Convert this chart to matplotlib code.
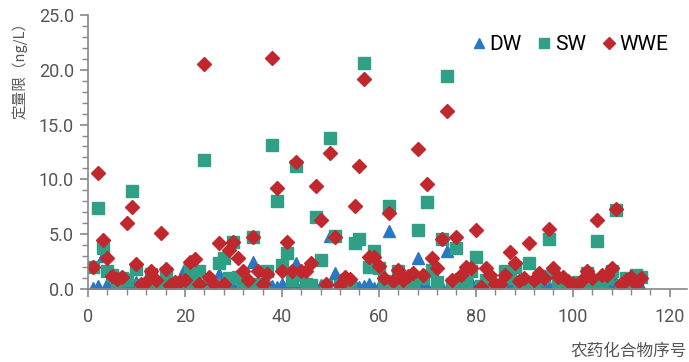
import numpy as np
import matplotlib
matplotlib.use("Agg")
import matplotlib.pyplot as plt
from matplotlib.ticker import MultipleLocator, FormatStrFormatter

plt.rcParams['font.family'] = ['Roboto', 'Noto Sans CJK SC', 'DejaVu Sans']

# 农药化合物序号 1..114
idx = np.arange(1, 115)

dw = [0.1, 0.3, 3.0, 0.5, 0.2, 0.4, 0.2, 0.3, 0.2, 0.6,
      0.1, 0.2, 0.3, 0.1, 0.4, 0.2, 0.1, 0.3, 0.5, 1.9,
      0.3, 1.2, 0.2, 0.4, 0.1, 0.3, 1.4, 0.2, 0.5, 0.3,
      0.1, 0.6, 0.2, 2.5, 0.3, 0.1, 0.6, 0.3, 0.2, 0.5,
      0.3, 0.6, 2.4, 0.2, 0.5, 0.3, 0.1, 0.4, 0.2, 4.8,
      1.5, 0.3, 0.1, 0.6, 0.4, 0.2, 0.3, 0.5, 0.1, 0.3,
      0.2, 5.3, 0.3, 0.1, 0.4, 0.2, 0.5, 2.8, 0.3, 0.2,
      1.6, 0.4, 0.2, 3.5, 0.3, 0.6, 0.2, 0.4, 0.6, 0.3,
      0.1, 0.5, 0.2, 0.1, 0.3, 0.8, 0.4, 0.2, 0.1, 0.5,
      0.3, 0.2, 0.6, 0.4, 0.1, 0.3, 0.2, 0.5, 0.1, 0.2,
      0.4, 0.1, 0.3, 0.5, 0.2, 0.3, 0.6, 1.3, 0.4, 0.2,
      0.5, 0.1, 0.3, 0.2]

sw = [2.0, 7.4, 3.7, 1.6, 1.3, 0.6, 1.0, 0.8, 8.9, 1.8,
      0.3, 0.4, 1.4, 0.3, 0.5, 1.5, 0.3, 0.2, 0.4, 0.5,
      1.7, 0.7, 1.6, 11.8, 0.6, 0.4, 2.4, 2.8, 1.0, 4.3,
      1.1, 0.5, 0.3, 4.7, 0.5, 0.3, 1.6, 13.1, 8.0, 2.2,
      3.3, 0.8, 11.2, 1.3, 0.5, 0.4, 6.6, 2.6, 0.3, 13.8,
      4.8, 0.3, 0.8, 0.4, 4.2, 4.6, 20.6, 2.0, 3.5, 1.9,
      0.7, 7.6, 0.5, 1.6, 0.4, 0.6, 0.5, 5.4, 1.0, 7.9,
      1.7, 0.6, 4.6, 19.4, 0.5, 3.7, 0.9, 0.6, 1.6, 2.9,
      0.3, 0.8, 0.5, 0.3, 0.4, 1.6, 1.0, 2.0, 0.4, 0.5,
      2.4, 0.6, 0.9, 1.2, 4.6, 1.5, 0.5, 0.3, 0.4, 0.3,
      0.6, 0.4, 1.5, 0.7, 4.4, 0.5, 1.0, 1.6, 7.2, 0.3,
      1.0, 0.5, 1.3, 1.1]

wwe = [2.0, 10.6, 4.5, 2.8, 1.2, 0.9, 1.1, 6.0, 7.5, 2.3,
       0.5, 0.6, 1.6, 0.8, 5.1, 1.8, 0.4, 0.6, 0.7, 0.8,
       2.5, 2.7, 0.5, 20.5, 1.1, 0.5, 4.2, 0.5, 3.6, 4.3,
       2.8, 1.6, 0.8, 4.7, 1.6, 0.5, 1.4, 21.1, 9.2, 1.6,
       4.3, 1.6, 11.6, 1.6, 1.6, 2.4, 9.4, 6.3, 0.5, 12.4,
       4.7, 0.4, 1.1, 0.9, 7.6, 11.2, 19.2, 2.9, 2.9, 2.1,
       1.0, 6.9, 0.7, 1.7, 0.8, 1.2, 1.5, 12.8, 1.3, 9.6,
       2.8, 1.9, 4.6, 16.2, 0.8, 4.7, 1.3, 2.0, 1.9, 5.4,
       0.2, 1.9, 1.3, 0.5, 0.5, 1.3, 3.4, 2.4, 0.7, 1.0,
       4.2, 0.8, 1.5, 1.0, 5.5, 1.9, 1.1, 1.1, 0.7, 0.5,
       0.5, 0.8, 1.6, 1.0, 6.3, 1.3, 1.3, 1.9, 7.3, 0.5,
       0.8, 1.1, 0.5, 1.0]

fig = plt.figure(figsize=(6.89, 3.62), dpi=100)
ax = fig.add_axes([0.1277, 0.2017, 0.869, 0.757])

ax.plot(idx, dw, linestyle='none', marker='^', ms=9, color='#2a78c2', label='DW')
ax.plot(idx, sw, linestyle='none', marker='s', ms=8.5, color='#2f9f86', label='SW')
ax.plot(idx, wwe, linestyle='none', marker='D', ms=7, color='#c0282e', label='WWE')

ax.set_xlim(0, 123.5)
ax.set_ylim(0, 25)
ax.xaxis.set_major_locator(MultipleLocator(20))
ax.xaxis.set_minor_locator(MultipleLocator(4))
ax.yaxis.set_major_locator(MultipleLocator(5))
ax.yaxis.set_minor_locator(MultipleLocator(1))
ax.yaxis.set_major_formatter(FormatStrFormatter('%.1f'))

for s in ['top', 'right']:
    ax.spines[s].set_visible(False)
for s in ['left', 'bottom']:
    ax.spines[s].set_color('#888888')
    ax.spines[s].set_linewidth(1.2)
ax.tick_params(which='major', length=6, width=1.2, color='#888888', labelsize=13, labelcolor='#555555')
ax.tick_params(which='minor', length=4, width=1.0, color='#888888')
ax.tick_params(axis='x', pad=8)
ax.tick_params(axis='y', pad=4)

ax.set_ylabel('定量限（ng/L）', fontsize=10.5, color='#555555', loc='top', labelpad=8,
              family=['Noto Sans CJK SC', 'DejaVu Sans'])
ax.set_xlabel('农药化合物序号', fontsize=12, color='#555555', loc='right', labelpad=12,
              family=['Noto Sans CJK SC', 'DejaVu Sans'])

ax.legend(loc='upper right', bbox_to_anchor=(1.0, 0.995), ncol=3, frameon=False,
          fontsize=15, handletextpad=0.1, columnspacing=0.7, markerscale=0.85,
          handlelength=0.8)

fig.savefig('out.png', dpi=100)
